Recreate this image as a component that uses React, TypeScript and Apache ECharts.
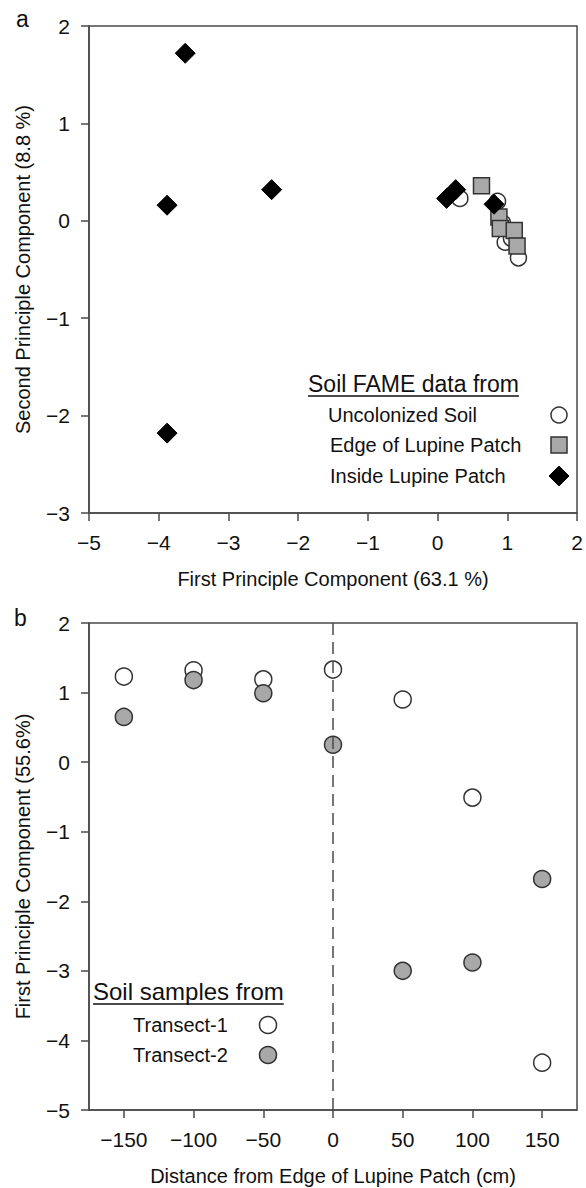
import React, { useEffect, useRef } from "react";
import * as echarts from "echarts";

// Panel a: PCA scores (First PC, Second PC)
const uncolonizedSoil: [number, number][] = [
  [0.32, 0.23], [0.86, 0.2], [0.93, -0.02], [0.97, -0.22], [1.06, -0.18], [1.16, -0.38],
];
const edgeOfPatch: [number, number][] = [
  [0.63, 0.36], [0.88, 0.04], [0.9, -0.08], [1.1, -0.1], [1.14, -0.26],
];
const insidePatch: [number, number][] = [
  [-3.62, 1.72], [-3.88, 0.16], [-2.38, 0.32], [-3.88, -2.18], [0.13, 0.23], [0.26, 0.32], [0.81, 0.17],
];

// Panel b: First PC vs distance
const distances = [-150, -100, -50, 0, 50, 100, 150];
const transect1 = [1.23, 1.32, 1.19, 1.33, 0.9, -0.51, -4.32];
const transect2 = [0.65, 1.18, 0.99, 0.25, -3.0, -2.88, -1.68];
const distanceTicks = [-150, -100, -50, 0, 50, 100, 150];

const legendA = ["Uncolonized Soil", "Edge of Lupine Patch", "Inside Lupine Patch"];
const legendB = ["Transect-1", "Transect-2"];

const FONT = "'Liberation Sans', Arial, Helvetica, sans-serif";
const AXIS = "#4a4a4a";
const GRAY = "#a8a8a8";
const EDGE = "#333333";

const fmt = (v: number) => (v < 0 ? "\u2212" + Math.abs(v) : String(v));

function textWidth(t: string, font: string) {
  const c = document.createElement("canvas").getContext("2d");
  if (!c) return t.length * 10;
  c.font = font;
  return c.measureText(t).width;
}

export default function App() {
  const ref = useRef<HTMLDivElement>(null);
  useEffect(() => {
    if (!ref.current) return;
    const chart = echarts.init(ref.current, undefined, { renderer: "svg" });

    const axisCommon = {
      axisLine: { show: true, onZero: false, lineStyle: { color: AXIS, width: 1.5 } },
      axisTick: { show: true, inside: false, length: 8, lineStyle: { color: AXIS, width: 1.5 } },
      splitLine: { show: false },
      nameLocation: "middle" as const,
      nameTextStyle: { fontFamily: FONT, fontSize: 20, color: "#111" },
    };
    const labelCommon = { fontFamily: FONT, fontSize: 21, color: "#111", formatter: fmt };

    const headerFontA = `23px ${FONT}`;
    const headerFontB = `24px ${FONT}`;
    const hA = "Soil FAME data from";
    const hB = "Soil samples from";
    const wA = textWidth(hA, headerFontA);
    const wB = textWidth(hB, headerFontB);

    const txt = (text: string, x: number, y: number, font: string, align = "left") => ({
      type: "text",
      style: {
        text, x, y, font, fill: "#111",
        align, textAlign: align, verticalAlign: "middle", textVerticalAlign: "middle",
      },
    });

    const graphic: any[] = [
      txt("a", 16, 19, `23px ${FONT}`),
      txt("b", 14, 618, `23px ${FONT}`),
      // legend a
      txt(hA, 308, 384, headerFontA),
      { type: "line", shape: { x1: 308, y1: 396, x2: 308 + wA, y2: 396 }, style: { stroke: "#111", lineWidth: 1.5 } },
      txt(legendA[0], 328, 415, `20px ${FONT}`),
      txt(legendA[1], 330, 445, `20px ${FONT}`),
      txt(legendA[2], 330, 476, `20px ${FONT}`),
      { type: "circle", shape: { cx: 559, cy: 415, r: 8 }, style: { fill: "#fff", stroke: EDGE, lineWidth: 1.5 } },
      { type: "rect", shape: { x: 551, y: 437, width: 16, height: 16 }, style: { fill: GRAY, stroke: EDGE, lineWidth: 1.5 } },
      { type: "polygon", shape: { points: [[559, 466], [569, 476], [559, 486], [549, 476]] }, style: { fill: "#000", stroke: "#000", lineWidth: 1 } },
      // legend b
      txt(hB, 93, 991, headerFontB),
      { type: "line", shape: { x1: 93, y1: 1004, x2: 93 + wB, y2: 1004 }, style: { stroke: "#111", lineWidth: 1.5 } },
      txt(legendB[0], 133, 1025, `20px ${FONT}`),
      txt(legendB[1], 133, 1055, `20px ${FONT}`),
      { type: "circle", shape: { cx: 268, cy: 1025, r: 8.5 }, style: { fill: "#fff", stroke: EDGE, lineWidth: 1.5 } },
      { type: "circle", shape: { cx: 268, cy: 1055, r: 8.5 }, style: { fill: GRAY, stroke: EDGE, lineWidth: 1.5 } },
    ];

    chart.setOption({
      animation: false,
      backgroundColor: "#fff",
      grid: [
        { left: 89, top: 26, right: 9, height: 487, show: true, borderColor: AXIS, borderWidth: 1.5, backgroundColor: "transparent" },
        { left: 89, top: 623, right: 9, height: 487, show: true, borderColor: AXIS, borderWidth: 1.5, backgroundColor: "transparent" },
      ],
      xAxis: [
        {
          ...axisCommon, type: "value", gridIndex: 0, min: -5, max: 2, interval: 1,
          name: "First Principle Component (63.1 %)", nameGap: 56,
          axisLabel: { ...labelCommon, margin: 19 },
        },
        {
          ...axisCommon, type: "value", gridIndex: 1, min: -175, max: 175,
          name: "Distance from Edge of Lupine Patch (cm)", nameGap: 56,
          axisTick: { ...axisCommon.axisTick, customValues: distanceTicks },
          axisLabel: { ...labelCommon, margin: 19, customValues: distanceTicks },
        },
      ],
      yAxis: [
        {
          ...axisCommon, type: "value", gridIndex: 0, min: -3, max: 2, interval: 1,
          name: "Second Principle Component (8.8 %)", nameGap: 56,
          axisLabel: { ...labelCommon, margin: 19 },
        },
        {
          ...axisCommon, type: "value", gridIndex: 1, min: -5, max: 2, interval: 1,
          name: "First Principle Component (55.6%)", nameGap: 56,
          axisLabel: { ...labelCommon, margin: 19 },
        },
      ],
      series: [
        {
          type: "scatter", xAxisIndex: 0, yAxisIndex: 0, data: uncolonizedSoil,
          symbol: "circle", symbolSize: 16,
          itemStyle: { color: "#fff", borderColor: EDGE, borderWidth: 1.5, opacity: 1 },
        },
        {
          type: "scatter", xAxisIndex: 0, yAxisIndex: 0, data: edgeOfPatch,
          symbol: "rect", symbolSize: 16,
          itemStyle: { color: GRAY, borderColor: EDGE, borderWidth: 1.5, opacity: 1 },
        },
        {
          type: "scatter", xAxisIndex: 0, yAxisIndex: 0, data: insidePatch,
          symbol: "diamond", symbolSize: 20,
          itemStyle: { color: "#000", borderColor: "#000", borderWidth: 1, opacity: 1 },
        },
        {
          type: "scatter", xAxisIndex: 1, yAxisIndex: 1,
          data: distances.map((d, i) => [d, transect1[i]]),
          symbol: "circle", symbolSize: 17,
          itemStyle: { color: "#fff", borderColor: EDGE, borderWidth: 1.5, opacity: 1 },
          markLine: {
            silent: true, symbol: "none", label: { show: false },
            lineStyle: { color: AXIS, width: 1.5, type: [12, 7] },
            data: [{ xAxis: 0 }],
          },
          z: 2,
        },
        {
          type: "scatter", xAxisIndex: 1, yAxisIndex: 1,
          data: distances.map((d, i) => [d, transect2[i]]),
          symbol: "circle", symbolSize: 17,
          itemStyle: { color: GRAY, borderColor: EDGE, borderWidth: 1.5, opacity: 1 },
          z: 3,
        },
      ],
      graphic,
    });

    return () => chart.dispose();
  }, []);

  return (
    <div
      ref={ref}
      style={{ position: "absolute", left: 0, top: 0, width: 586, height: 1188, background: "#fff" }}
    />
  );
}
